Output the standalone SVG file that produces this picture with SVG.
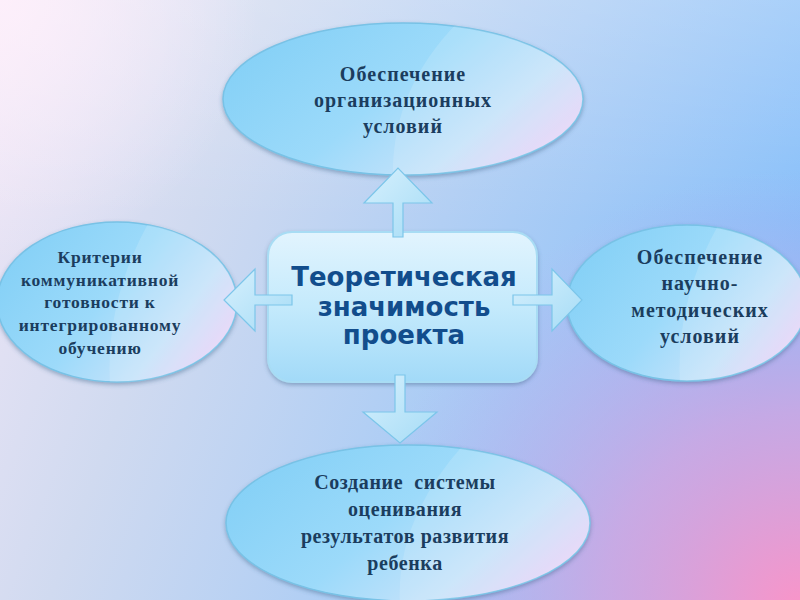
<svg xmlns="http://www.w3.org/2000/svg" width="800" height="600" viewBox="0 0 800 600">
<defs>
<linearGradient id="bg" gradientUnits="userSpaceOnUse" x1="0" y1="0" x2="800" y2="300">
<stop offset="0" stop-color="#f0e6f6"/><stop offset="0.3" stop-color="#d0daf0"/><stop offset="1" stop-color="#84befa"/>
</linearGradient>
<radialGradient id="bgPink" gradientUnits="userSpaceOnUse" cx="800" cy="610" r="440">
<stop offset="0" stop-color="#fa94c8" stop-opacity="1"/><stop offset="0.45" stop-color="#daa2de" stop-opacity="0.75"/><stop offset="1" stop-color="#c0a8ec" stop-opacity="0"/>
</radialGradient>
<radialGradient id="bgTL" gradientUnits="userSpaceOnUse" cx="0" cy="0" r="260">
<stop offset="0" stop-color="#fff0fb" stop-opacity="0.85"/><stop offset="1" stop-color="#fff0fb" stop-opacity="0"/>
</radialGradient>
<linearGradient id="bgTop" x1="0" y1="0" x2="0" y2="220" gradientUnits="userSpaceOnUse">
<stop offset="0" stop-color="#ffffff" stop-opacity="0.22"/><stop offset="1" stop-color="#ffffff" stop-opacity="0"/>
</linearGradient>
<linearGradient id="ell" x1="0" y1="0.25" x2="1" y2="0.75">
<stop offset="0" stop-color="#84d0f6"/><stop offset="0.45" stop-color="#9cdafa"/><stop offset="0.75" stop-color="#c4e2fa"/><stop offset="1" stop-color="#ecd0f6"/>
</linearGradient>
<linearGradient id="rectG" x1="0" y1="0" x2="0" y2="1">
<stop offset="0" stop-color="#e2f4fe"/><stop offset="0.5" stop-color="#c4eafc"/><stop offset="1" stop-color="#a2daf8"/>
</linearGradient>
<linearGradient id="arrG" x1="0" y1="0" x2="1" y2="1">
<stop offset="0" stop-color="#d6f0fd"/><stop offset="1" stop-color="#a6dcf6"/>
</linearGradient>
<filter id="sh" x="-10%" y="-10%" width="120%" height="125%">
<feDropShadow dx="0" dy="2" stdDeviation="2" flood-color="#3a6488" flood-opacity="0.45"/>
</filter>
<clipPath id="cTop"><ellipse cx="403" cy="99" rx="180" ry="76"/></clipPath>
<clipPath id="cLeft"><ellipse cx="117" cy="302" rx="120" ry="80"/></clipPath>
<clipPath id="cRight"><ellipse cx="687" cy="303" rx="120" ry="78"/></clipPath>
<clipPath id="cBot"><ellipse cx="408" cy="523" rx="182" ry="78"/></clipPath>
</defs>
<style>
.ell{fill:url(#ell);stroke:#78c2e6;stroke-width:1.5;filter:url(#sh)}
.gloss{fill:#ffffff;fill-opacity:0.14}
.et{font-family:"Liberation Serif","Times New Roman",serif;font-weight:bold;fill:#1b3d5e;text-anchor:middle}
.big{font-size:20px;letter-spacing:1px}
.bot{font-size:20px;letter-spacing:0.6px}
.sm{font-size:17.5px;letter-spacing:0.8px}
.ct{font-family:"DejaVu Sans",Verdana,sans-serif;font-weight:bold;fill:#124d8c;text-anchor:middle;font-size:26px}
.arr{fill:url(#arrG);stroke:#7cc6ea;stroke-width:1.2;stroke-linejoin:miter}
</style>
<rect width="800" height="600" fill="url(#bg)"/>
<rect width="800" height="600" fill="url(#bgTop)"/>
<rect width="800" height="600" fill="url(#bgTL)"/>
<rect width="800" height="600" fill="url(#bgPink)"/>

<g id="node-top">
<ellipse class="ell" cx="403" cy="99" rx="180" ry="76"/>
<path class="gloss" clip-path="url(#cTop)" d="M460 20 Q390 90 393 180 L600 180 L600 20 Z"/>
<text class="et big" x="403" y="81">Обеспечение</text>
<text class="et big" x="403" y="107">организационных</text>
<text class="et big" x="403" y="133">условий</text>
</g>

<g id="node-left">
<ellipse class="ell" cx="117" cy="302" rx="120" ry="80"/>
<path class="gloss" clip-path="url(#cLeft)" d="M150 220 Q105 300 110 385 L240 385 L240 220 Z"/>
<text class="et sm" x="100" y="263">Критерии</text>
<text class="et sm" x="100" y="286">коммуникативной</text>
<text class="et sm" x="100" y="308">готовности к</text>
<text class="et sm" x="100" y="331">интегрированному</text>
<text class="et sm" x="100" y="354">обучению</text>
</g>

<g id="node-right">
<ellipse class="ell" cx="687" cy="303" rx="120" ry="78"/>
<path class="gloss" clip-path="url(#cRight)" d="M720 222 Q675 300 680 385 L810 385 L810 222 Z"/>
<text class="et big" x="700" y="264">Обеспечение</text>
<text class="et big" x="700" y="290">научно-</text>
<text class="et big" x="700" y="317">методических</text>
<text class="et big" x="700" y="343">условий</text>
</g>

<g id="node-bottom">
<ellipse class="ell" cx="408" cy="523" rx="182" ry="78"/>
<path class="gloss" clip-path="url(#cBot)" d="M465 443 Q395 520 400 605 L600 605 L600 443 Z"/>
<text class="et bot" x="405" y="489">Создание&#160; системы</text>
<text class="et bot" x="405" y="516">оценивания</text>
<text class="et bot" x="405" y="543">результатов развития</text>
<text class="et bot" x="405" y="570">ребенка</text>
</g>

<g id="node-center">
<rect x="268" y="232" width="269" height="150" rx="24" ry="24" fill="url(#rectG)" stroke="#a8dcf4" stroke-width="2" filter="url(#sh)"/>
<text class="ct" x="404" y="286">Теоретическая</text>
<text class="ct" x="404" y="316">значимость</text>
<text class="ct" x="404" y="344">проекта</text>
</g>

<g id="connectors">
<polygon class="arr" points="393,237 393,203 364,203 398,168 432,203 403,203 403,237"/>
<polygon class="arr" points="395,375 395,412 363,412 400,443 437,412 405,412 405,375"/>
<polygon class="arr" points="292,295 255,295 255,269 224,300 255,331 255,305 292,305"/>
<polygon class="arr" points="513,295 552,295 552,269 582,300 552,331 552,305 513,305"/>
</g>
</svg>
